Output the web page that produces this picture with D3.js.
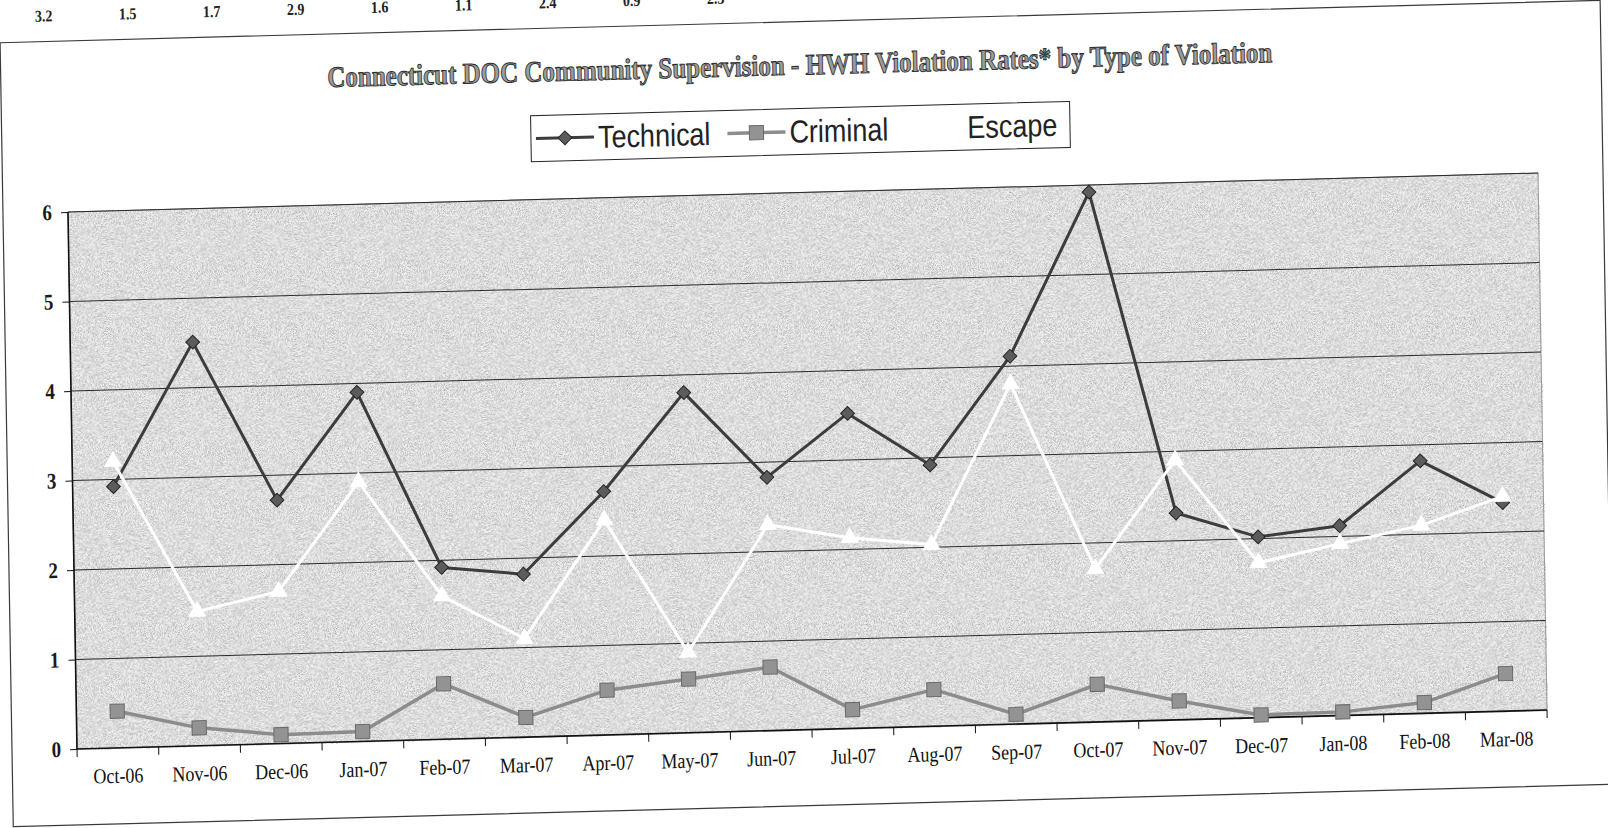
<!DOCTYPE html>
<html lang="en">
<head>
<meta charset="UTF-8">
<title>HWH Violation Rates</title>
<style>
  body { margin: 0; background: #fff; }
  svg text { font-family: "Liberation Serif", "Times New Roman", serif; }
  .axis path { display: none; }
  .legend text { font-family: "Liberation Sans", Arial, sans-serif; }
</style>
</head>
<body>
<div id="chart"></div>
<script src="https://d3js.org/d3.v7.min.js"></script>
<script>
var months = ["Oct-06","Nov-06","Dec-06","Jan-07","Feb-07","Mar-07","Apr-07","May-07","Jun-07",
              "Jul-07","Aug-07","Sep-07","Oct-07","Nov-07","Dec-07","Jan-08","Feb-08","Mar-08"];
var technical = [2.92,4.51,2.72,3.90,1.92,1.82,2.72,3.80,2.83,3.52,2.92,4.11,5.92,2.31,2.02,2.12,2.82,2.33];
var criminal  = [0.41,0.20,0.10,0.11,0.62,0.22,0.50,0.60,0.71,0.21,0.41,0.11,0.42,0.21,0.03,0.04,0.12,0.42];
var escape    = [3.2,1.5,1.7,2.9,1.6,1.1,2.4,0.9,2.3,2.13,2.03,3.8,1.71,2.9,1.73,1.92,2.1,2.4];
var tableRow  = ["3.2","1.5","1.7","2.9","1.6","1.1","2.4","0.9","2.3"];  // visible part of the table above
var yTicks = [0,1,2,3,4,5,6];
var seriesNames = ["Technical","Criminal","Escape"];
var chartTitle = "Connecticut DOC Community Supervision - HWH Violation Rates* by Type of Violation";

var W = 1608, H = 828;
var margin = {top: 212, right: 61, bottom: 79, left: 77};
var width = W - margin.left - margin.right;
var height = H - margin.top - margin.bottom;
var stretch = "scale(1,1.18)";   // the printed chart had its fonts stretched tall

var svg = d3.select("#chart").append("svg").attr("width", W).attr("height", H);

// fine grain for the plot area, like the scanned halftone
var grain = svg.append("defs").append("filter").attr("id", "grain")
    .attr("x", 0).attr("y", 0).attr("width", "100%").attr("height", "100%");
grain.append("feTurbulence").attr("type", "fractalNoise").attr("baseFrequency", 1.4)
    .attr("numOctaves", 1).attr("seed", 7);
grain.append("feColorMatrix").attr("type", "matrix")
    .attr("values", "0 0 0 0 0  0 0 0 0 0  0 0 0 0 0  0.7 0 0 0 -0.27");

// the scan is slightly tilted, so the whole page sits in a skewed group
var page = svg.append("g")
    .attr("transform", "translate(77,749) matrix(1,-0.0265,0.0168,1,0,0) translate(-77,-749)");

var rowX = d3.scaleLinear().domain([0, 1]).range([56, 140]);
page.append("g").selectAll("text")
    .data(tableRow)
  .enter().append("text")
    .attr("transform", function(d, i) { return "translate(" + rowX(i) + ",21) " + stretch; })
    .attr("text-anchor", "middle")
    .style("font-size", "14px").style("font-weight", "bold").style("fill", "#222")
    .text(function(d) { return d; });

// chart frame
page.append("rect")
    .attr("x", 12).attr("y", 41).attr("width", 1600).attr("height", 784)
    .attr("fill", "none").attr("stroke", "#3a3a3a").attr("stroke-width", 1.2);

page.append("text")
    .attr("transform", "translate(811,94) " + stretch)
    .attr("text-anchor", "middle")
    .style("font-size", "25px").style("font-weight", "bold")
    .style("fill", "#9c9c9c").style("stroke", "#2e2e2e").style("stroke-width", 0.8)
    .text(chartTitle);

var g = page.append("g").attr("transform", "translate(" + margin.left + "," + margin.top + ")");

var x = d3.scaleBand().domain(months).range([0, width]);
var y = d3.scaleLinear().domain([0, 6]).range([height, 0]);

g.append("rect").attr("width", width).attr("height", height).attr("fill", "#efefef");
g.append("rect").attr("width", width).attr("height", height).attr("fill", "#fff")
    .attr("filter", "url(#grain)");
g.append("rect").attr("width", width).attr("height", height)
    .attr("fill", "none").attr("stroke", "#999").attr("stroke-width", 1);

g.selectAll(".grid")
    .data(yTicks.slice(1))
  .enter().append("line")
    .attr("class", "grid")
    .attr("x1", 0).attr("x2", width)
    .attr("y1", function(d) { return y(d); }).attr("y2", function(d) { return y(d); })
    .attr("stroke", "#2a2a2a").attr("stroke-width", 1);

// y axis
var yAxis = g.append("g").attr("class", "axis")
    .call(d3.axisLeft(y).tickValues(yTicks).tickFormat(d3.format("d")).tickSize(7).tickPadding(0));
yAxis.selectAll("line").attr("stroke", "#111");
yAxis.selectAll("text")
    .attr("x", null).attr("dy", null)
    .attr("transform", "translate(-16,7) " + stretch)
    .style("font-size", "19px").style("font-weight", "bold").style("fill", "#1a1a1a");
g.append("line").attr("x1", 0).attr("x2", 0).attr("y1", 0).attr("y2", height)
    .attr("stroke", "#111").attr("stroke-width", 1.6);

// x axis: labels in band centres, tick marks on band edges
var xAxis = g.append("g").attr("class", "axis")
    .attr("transform", "translate(0," + height + ")")
    .call(d3.axisBottom(x).tickSize(0));
xAxis.selectAll("text")
    .attr("y", null).attr("dy", null)
    .attr("transform", "translate(0,35) " + stretch)
    .style("font-size", "18px").style("fill", "#111");
g.selectAll(".xtick")
    .data(months.concat([null]))
  .enter().append("line")
    .attr("class", "xtick")
    .attr("x1", function(d) { return d ? x(d) : width; })
    .attr("x2", function(d) { return d ? x(d) : width; })
    .attr("y1", height).attr("y2", height + 8)
    .attr("stroke", "#111");
g.append("line").attr("x1", 0).attr("x2", width).attr("y1", height).attr("y2", height)
    .attr("stroke", "#111").attr("stroke-width", 1.6);

var series = [
  {name: seriesNames[0], values: technical, line: "#3c3c3c", fill: "#5c5c5c", edge: "#262626", width: 3,
   symbol: d3.symbolSquare, size: 95, rotate: 45},
  {name: seriesNames[1], values: criminal, line: "#8c8c8c", fill: "#939393", edge: "#6a6a6a", width: 3.5,
   symbol: d3.symbolSquare, size: 200, rotate: 0},
  {name: seriesNames[2], values: escape, line: "#ffffff", fill: "#ffffff", edge: "#ffffff", width: 3,
   symbol: d3.symbolTriangle, size: 120, rotate: 0}
];

var cx = function(i) { return x(months[i]) + x.bandwidth() / 2; };
var line = d3.line().x(function(d, i) { return cx(i); }).y(function(d) { return y(d); });

series.forEach(function(s) {
  g.append("path").datum(s.values)
    .attr("d", line)
    .attr("fill", "none").attr("stroke", s.line).attr("stroke-width", s.width)
    .attr("stroke-linejoin", "round");
  g.selectAll(null)
    .data(s.values)
  .enter().append("path")
    .attr("d", d3.symbol().type(s.symbol).size(s.size))
    .attr("transform", function(d, i) {
      return "translate(" + cx(i) + "," + y(d) + ") rotate(" + s.rotate + ")";
    })
    .attr("fill", s.fill).attr("stroke", s.edge).attr("stroke-width", 1);
});

// legend
var legend = page.append("g").attr("class", "legend");
legend.append("rect")
    .attr("x", 541).attr("y", 128).attr("width", 539).attr("height", 46)
    .attr("fill", "#fff").attr("stroke", "#222").attr("stroke-width", 1);
var lx = 546;
series.forEach(function(s) {
  var item = legend.append("g").attr("transform", "translate(" + lx + ",151)");
  item.append("line").attr("x1", 0).attr("x2", 58).attr("stroke", s.line).attr("stroke-width", s.width);
  item.append("path")
    .attr("d", d3.symbol().type(s.symbol).size(s.size))
    .attr("transform", "translate(29,0) rotate(" + s.rotate + ")")
    .attr("fill", s.fill).attr("stroke", s.edge).attr("stroke-width", 1);
  var t = item.append("text")
    .attr("transform", "translate(62,11) " + stretch)
    .style("font-size", "27px").style("fill", "#222")
    .text(s.name);
  lx += 62 + t.node().getComputedTextLength() + 17;
});
</script>
</body>
</html>
